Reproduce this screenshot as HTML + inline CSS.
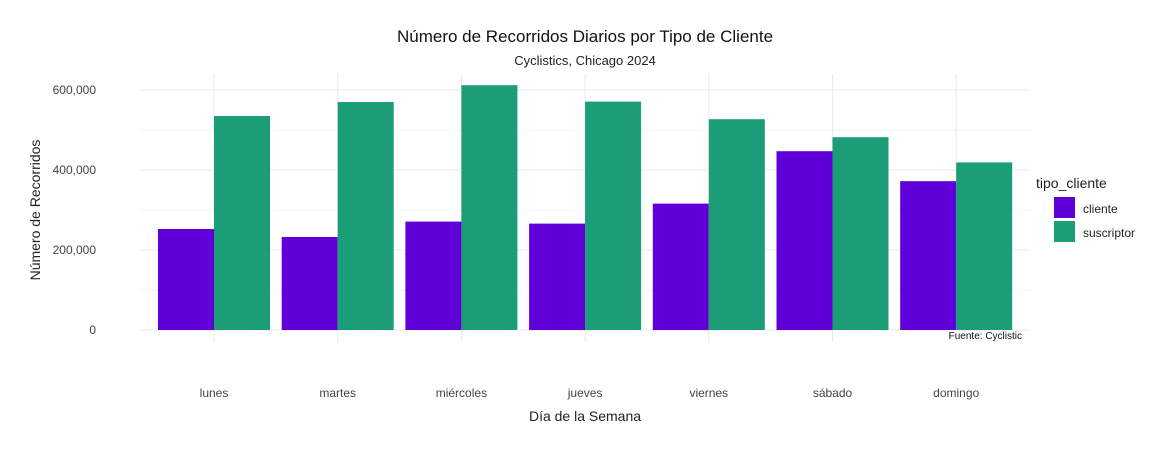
<!DOCTYPE html>
<html><head><meta charset="utf-8"><style>
body{margin:0;background:#fff;font-family:"Liberation Sans",Arial,sans-serif}
</style></head><body>
<svg width="1172" height="450" xmlns="http://www.w3.org/2000/svg" font-family="Liberation Sans, Arial, sans-serif">
<text x="585" y="42" text-anchor="middle" font-size="17" fill="#111">Número de Recorridos Diarios por Tipo de Cliente</text>
<text x="585" y="65" text-anchor="middle" font-size="13" fill="#222">Cyclistics, Chicago 2024</text>
<g id="grid"></g>
<g id="bars"></g>
<g id="axes"></g>
<text x="1022" y="339" text-anchor="end" font-size="10" fill="#111">Fuente: Cyclistic</text>
<text x="585" y="421" text-anchor="middle" font-size="14" fill="#222">Día de la Semana</text>
<text transform="translate(40,210) rotate(-90)" text-anchor="middle" font-size="14" fill="#222">Número de Recorridos</text>
<g>
<text x="1036" y="188" font-size="14" fill="#222">tipo_cliente</text>
<rect x="1054" y="197" width="21" height="21" fill="#6000d8"/>
<text x="1083" y="213" font-size="12" fill="#222">cliente</text>
<rect x="1054" y="221" width="21" height="21" fill="#1b9e77"/>
<text x="1083" y="237" font-size="12" fill="#222">suscriptor</text>
</g>
</svg>
<script>
const categories=["lunes","martes","miércoles","jueves","viernes","sábado","domingo"];
const cliente=[252500,232500,271000,266000,316000,447000,372000];
const suscriptor=[535000,570000,612000,571000,527000,482000,419000];
const yTicks=[0,200000,400000,600000];
const yTickLabels=["0","200,000","400,000","600,000"];
const NS="http://www.w3.org/2000/svg";
const px0=140,px1=1030,py0=74,py1=342;
const step=123.7,first=214;
const x=i=>first+i*step;
const y=v=>330-v/200000*80;
function mk(tag,attrs,parent){const e=document.createElementNS(NS,tag);for(const k in attrs)e.setAttribute(k,attrs[k]);document.getElementById(parent).appendChild(e);return e;}
for(let v=0;v<=650000;v+=100000){if(y(v)<py0)break;
 const l=mk('line',{x1:px0,x2:px1,y1:y(v),y2:y(v),stroke:'#ebebeb','stroke-width':v%200000===0?1.1:0.6},'grid');
 
 }
categories.forEach((c,i)=>{
 const l=mk('line',{x1:x(i),x2:x(i),y1:py0,y2:py1,stroke:'#ebebeb','stroke-width':1.1},'grid');
 
 
 const w=56;
 const a=mk('rect',{x:x(i)-w,y:y(cliente[i]),width:w,height:330-y(cliente[i]),fill:'#6000d8'},'bars');
 
 
 const b=mk('rect',{x:x(i),y:y(suscriptor[i]),width:w,height:330-y(suscriptor[i]),fill:'#1b9e77'},'bars');
 
 
 const t=mk('text',{x:x(i),y:397,'text-anchor':'middle','font-size':12,fill:'#444'},'axes');
 t.textContent=c;
 
 
});
yTicks.forEach((v,i)=>{
 const t=mk('text',{x:96,y:y(v)+4,'text-anchor':'end','font-size':12,fill:'#444'},'axes');
 t.textContent=yTickLabels[i];
 
 
});
</script>
</body></html>
